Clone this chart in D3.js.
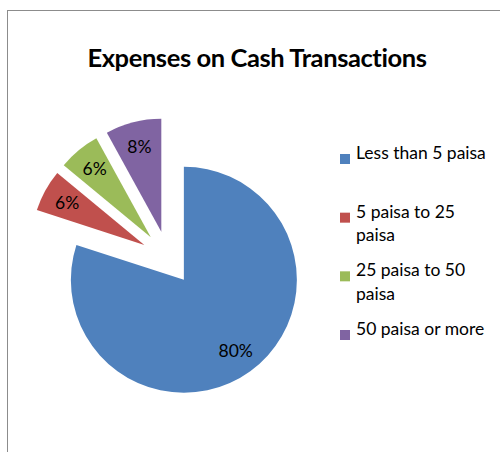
<!DOCTYPE html>
<meta charset="utf-8">
<html>
<head>
    <title>Expenses on Cash Transactions</title>
    <script src="https://cdn.jsdelivr.net/npm/d3@7"></script>
</head>
<style>
    body{
        margin: 0;
        background: white;
    }
    svg{
        display: block;
    }
    text{
        font-family: Lato, "Open Sans", sans-serif;
        fill: black;
    }
</style>
<body>
<svg width="500" height="452"></svg>
<script>

    // data
    let categories = ["Less than 5 paisa", "5 paisa to 25 paisa", "25 paisa to 50 paisa", "50 paisa or more"]
    let values = [80, 6, 6, 8]
    let colors = ["#4F81BD", "#C0504D", "#9BBB59", "#8064A2"]
    let title = "Expenses on Cash Transactions"

    let svg = d3.select("svg")

    // chart frame (only top and left edges are in view)
    svg.append("rect")
        .attr("x", 7.5).attr("y", 10.5)
        .attr("width", 600).attr("height", 600)
        .attr("fill", "white")
        .attr("stroke", "#8c8c8c")
        .attr("stroke-width", 1)

    svg.append("text")
        .attr("x", 257).attr("y", 67)
        .attr("text-anchor", "middle")
        .style("font-size", "25.5px")
        .style("font-weight", "bold")
        .style("letter-spacing", "-0.4px")
        .text(title)

    //*****************************
    // pie
    let cx = 168, cy = 258, r = 113, explode = 27
    let data = categories.map((c, i) => ({name: c, val: values[i], color: colors[i]}))

    let pie = d3.pie().value(d => d.val).sort(null)
    let arc = d3.arc().innerRadius(0).outerRadius(r)
    let labelArc = d3.arc().innerRadius(r * 0.78).outerRadius(r * 0.78)
    let total = d3.sum(values)

    let slices = svg.append("g")
        .attr("transform", `translate(${cx},${cy})`)
        .selectAll("g")
        .data(pie(data))
        .enter()
        .append("g")
        .attr("transform", function(d) {
            let a = (d.startAngle + d.endAngle) / 2
            return `translate(${explode * Math.sin(a)},${-explode * Math.cos(a)})`
        })

    slices.append("path")
        .attr("d", arc)
        .attr("fill", d => d.data.color)

    slices.append("text")
        .attr("transform", d => `translate(${labelArc.centroid(d)})`)
        .attr("text-anchor", "middle")
        .attr("dy", "0.35em")
        .style("font-size", "17.5px")
        .text(d => Math.round(d.data.val / total * 100) + "%")

    //*****************************
    // legend
    let legendY = d3.scalePoint().domain(categories).range([159, 335])
    let lineH = 23.5
    let legend = svg.append("g")
        .selectAll("g")
        .data(data)
        .enter()
        .append("g")
        .attr("transform", d => `translate(340,${legendY(d.name)})`)

    legend.append("rect")
        .attr("x", 0).attr("y", -5)
        .attr("width", 10).attr("height", 10)
        .attr("fill", d => d.color)

    legend.append("text")
        .attr("x", 16)
        .attr("dy", "0.35em")
        .style("font-size", "17.5px")
        .each(function(d) {
            let t = d3.select(this)
            let words = d.name.split(" ")
            let line = []
            let tspan = t.append("tspan").attr("x", 16).attr("dy", 0)
            words.forEach(w => {
                line.push(w)
                tspan.text(line.join(" "))
                if (tspan.node().getComputedTextLength() > 138 && line.length > 1) {
                    line.pop()
                    tspan.text(line.join(" "))
                    line = [w]
                    tspan = t.append("tspan").attr("x", 16).attr("dy", lineH).text(w)
                }
            })
        })
</script>
</body>
</html>
